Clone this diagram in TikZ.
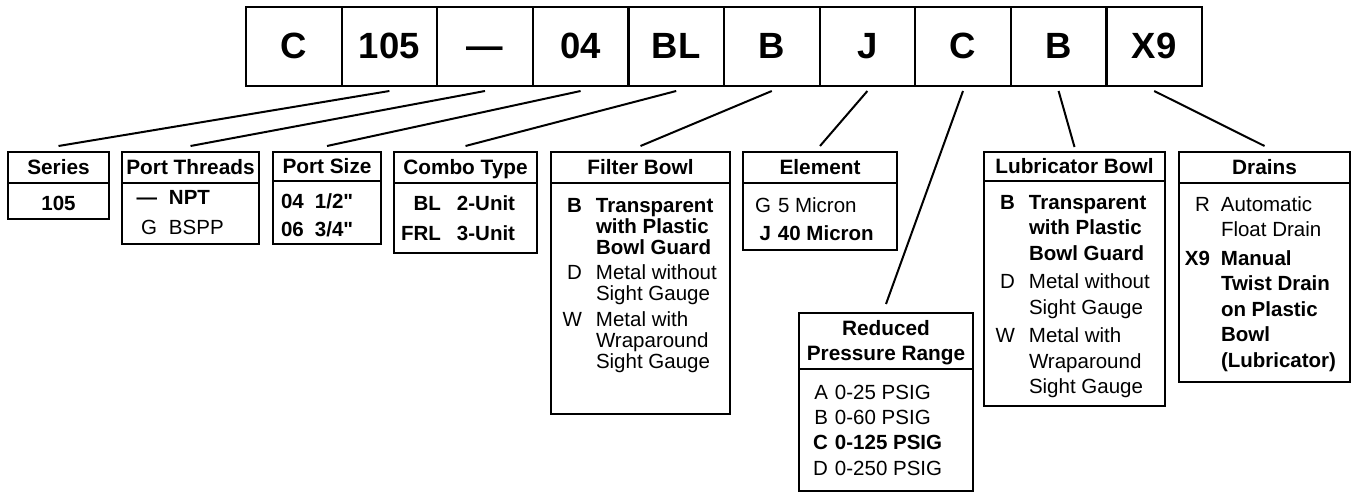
\documentclass[tikz,border=0pt]{standalone}
\usepackage{fontspec}
\setmainfont{Liberation Sans}[Ligatures=TeXOff]
\usepackage{array}
\usetikzlibrary{positioning}
\newcolumntype{R}[1]{>{\raggedleft\arraybackslash}p{#1}}
\newcolumntype{L}[1]{>{\raggedright\arraybackslash}p{#1}}
\newcolumntype{C}[1]{>{\centering\arraybackslash}p{#1}}
% option list: width, height, line pitch, top gap, columns, rows
\newcommand{\optbody}[6]{\parbox[b][#2][t]{#1}{\fontsize{20.5}{#3}\selectfont
  \vspace*{#4}\begin{tabular}[t]{#5}#6\end{tabular}}}
\tikzset{
  cell/.style   = {draw, line width=2.2pt, outer sep=0pt, inner sep=0pt,
                   minimum width=95.6pt, minimum height=79pt,
                   font=\fontsize{36.5}{40}\selectfont\bfseries,
                   text height=26.3pt, text depth=3pt},
  head/.style   = {draw, line width=2.2pt, outer sep=0pt, inner sep=0pt,
                   anchor=north, align=center, text height=14.9pt, text depth=0pt,
                   font=\fontsize{20.8}{25}\selectfont\bfseries},
  body/.style   = {draw, line width=2.2pt, outer sep=0pt, inner sep=0pt, anchor=north},
  leader/.style = {line width=2pt},
}

\begin{document}
\begin{tikzpicture}[x=1pt,y=-1pt]
\useasboundingbox (0,0) rectangle (1352,494);
% model code cells
\foreach \t [count=\i from 0] in {C,105,—,04,BL,B,J,C,B,X9}
  \node[cell] (c\i) at ({293.8+95.6*\i},46.5) {\t};
% option boxes
\node[head, minimum width=101pt, minimum height=31pt] (series) at (58.5,152) {Series};
\node[body] (seriesbody) at (series.south)
  {\optbody{101pt}{36pt}{25pt}{9.8pt}{@{}C{101pt}@{}}{\textbf{105}}};
\node[head, minimum width=137pt, minimum height=31pt] (threads) at (190.5,152) {Port Threads};
\node[body] (threadsbody) at (threads.south)
  {\optbody{137pt}{61pt}{30pt}{1pt}{@{}R{35pt}@{\hspace{12pt}}l@{}}
   {\textbf{—} & \textbf{NPT}\\ G & BSPP}};
\node[head, minimum width=108pt, minimum height=29pt] (portsize) at (327,152) {Port Size};
\node[body] (portsizebody) at (portsize.south)
  {\optbody{108pt}{63pt}{27.6pt}{8.5pt}{@{\hspace{8pt}}L{34pt}@{}l@{}}
   {\textbf{04} & \textbf{1/2"}\\ \textbf{06} & \textbf{3/4"}}};
\node[head, minimum width=143pt, minimum height=31pt] (combo) at (465.5,152) {Combo Type};
\node[body] (combobody) at (combo.south)
  {\optbody{143pt}{70pt}{30pt}{6.3pt}{@{}R{47pt}@{\hspace{16pt}}l@{}}
   {\textbf{BL} & \textbf{2-Unit}\\ \textbf{FRL} & \textbf{3-Unit}}};
\node[head, minimum width=179pt, minimum height=31pt] (filter) at (640.5,152) {Filter Bowl};
\node[body] (filterbody) at (filter.south)
  {\optbody{179pt}{231pt}{21pt}{14.6pt}{@{}R{31pt}@{\hspace{14pt}}l@{}}
   {\textbf{B} & \textbf{Transparent}\\ & \textbf{with Plastic}\\ & \textbf{Bowl Guard}\\[4pt]
    D & Metal without\\ & Sight Gauge\\[4pt]
    W & Metal with\\ & Wraparound\\ & Sight Gauge}};
\node[head, minimum width=154pt, minimum height=31pt] (element) at (820,152) {Element};
\node[body] (elementbody) at (element.south)
  {\optbody{154pt}{67pt}{28pt}{9.7pt}{@{}R{28pt}@{\hspace{7pt}}l@{}}
   {G & 5 Micron\\ \textbf{J} & \textbf{40 Micron}}};
\node[head, minimum width=174pt, minimum height=56pt, text height=39.7pt] (pressure) at (886,313)
  {\begin{tabular}[b]{@{}c@{}}Reduced\\Pressure Range\end{tabular}};
\node[body] (pressurebody) at (pressure.south)
  {\optbody{174pt}{122pt}{25.3pt}{12.6pt}{@{}R{29pt}@{\hspace{7pt}}l@{}}
   {A & 0-25 PSIG\\ B & 0-60 PSIG\\ \textbf{C} & \textbf{0-125 PSIG}\\ D & 0-250 PSIG}};
\node[head, minimum width=181pt, minimum height=29pt] (lubebowl) at (1074.5,152) {Lubricator Bowl};
\node[body] (lubebowlbody) at (lubebowl.south)
  {\optbody{181pt}{225pt}{25.5pt}{10.5pt}{@{}R{31pt}@{\hspace{14pt}}l@{}}
   {\textbf{B} & \textbf{Transparent}\\ & \textbf{with Plastic}\\ & \textbf{Bowl Guard}\\[3pt]
    D & Metal without\\ & Sight Gauge\\[3pt]
    W & Metal with\\ & Wraparound\\ & Sight Gauge}};
\node[head, minimum width=171pt, minimum height=31pt] (drains) at (1264.5,152) {Drains};
\node[body] (drainsbody) at (drains.south)
  {\optbody{171pt}{199pt}{25.5pt}{10.5pt}{@{}R{31pt}@{\hspace{11pt}}l@{}}
   {R & Automatic\\ & Float Drain\\[3pt]
    \textbf{X9} & \textbf{Manual}\\ & \textbf{Twist Drain}\\ & \textbf{on Plastic}\\
    & \textbf{Bowl}\\ & \textbf{(Lubricator)}}};
% leaders from code cells to their boxes
\foreach \c/\b/\g in {1/series/6,2/threads/6,3/portsize/6,4/combo/6,5/filter/6,
                      6/element/6,7/pressure/9,8/lubebowl/5,9/drains/6}
  \draw[leader] ([yshift=-5pt]c\c.south) -- ([yshift=\g pt]\b.north);
\end{tikzpicture}
\end{document}
